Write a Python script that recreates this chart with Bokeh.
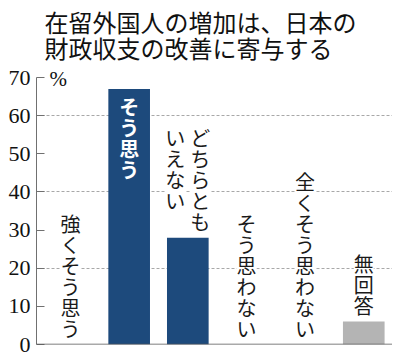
from bokeh.plotting import figure
from bokeh.models import ColumnDataSource, Range1d, FixedTicker, Span
from bokeh.core.properties import value
from bokeh.embed import file_html
from bokeh.resources import INLINE

# ---- data ----
title_lines = ["在留外国人の増加は、日本の", "財政収支の改善に寄与する"]
categories = ["強くそう思う", "そう思う", "どちらともいえない", "そう思わない", "全くそう思わない", "無回答"]
label_columns = [["強くそう思う"], ["そう思う"], ["どちらとも", "いえない"],
                 ["そう思わない"], ["全くそう思わない"], ["無回答"]]
values = [0, 67, 28, 0, 0, 6]
label_inside = [False, True, False, False, False, False]
y_ticks = [0, 10, 20, 30, 40, 50, 60, 70]
grid_ticks = [20, 40, 60]
unit_label = "%"

# ---- style / geometry ----
NAVY = "#1d4a7c"
GREY = "#b4b4b4"
JP = "Noto Sans CJK JP"
NUM = "Liberation Sans Narrow"
W, H = 392, 355
B_LEFT, B_BOTTOM = 36, 11
TOP_PX = 77              # pixel row of the top tick (from canvas top)
PITCH = 21
LAST_GAP = 16            # bar top -> centre of the lowest character
COL_SP = 25

y_max = y_ticks[-1]
frame_h = H - B_BOTTOM
axis_px = frame_h - TOP_PX
y_top = y_max * frame_h / axis_px   # frame extends above the axis to hold the title
x_start, x_end = -0.58, 5.49

xs = list(range(len(categories)))
bar_colors = [GREY if c == "無回答" else NAVY for c in categories]
bars = ColumnDataSource(dict(x=xs, top=values, color=bar_colors))

p = figure(width=W, height=H, output_backend="svg", toolbar_location=None, title=None,
           x_range=Range1d(x_start, x_end), y_range=Range1d(0, y_top),
           x_axis_location=None,
           min_border_left=B_LEFT, min_border_right=0, min_border_bottom=B_BOTTOM,
           min_border_top=0)
p.outline_line_color = None
p.background_fill_color = "white"
p.border_fill_color = "white"

p.xgrid.visible = False
p.ygrid.ticker = FixedTicker(ticks=grid_ticks)
p.ygrid.grid_line_color = "#a8a8a8"
p.ygrid.grid_line_dash = "3 2"
p.ygrid.grid_line_width = 1

ax = p.yaxis[0]
ax.ticker = FixedTicker(ticks=y_ticks)
ax.bounds = (0, y_max)
ax.major_tick_in = 8
ax.major_tick_out = 0
ax.minor_tick_line_color = None
ax.axis_line_color = "#707070"
ax.major_tick_line_color = "#707070"
ax.major_label_text_font = NUM
ax.major_label_text_font_size = "22px"
ax.major_label_text_color = "#111111"
ax.major_label_standoff = 6

p.add_layout(Span(location=0, dimension="width", line_color="#555555", line_width=1.5))

p.vbar(x="x", top="top", width=0.71, color="color", line_color=None, source=bars)

# vertical (tategaki) labels, one glyph per character
out = dict(x=[], y=[], t=[], xo=[], yo=[])
ins = dict(x=[], y=[], t=[], xo=[], yo=[])
for x, v, cols, inside in zip(xs, values, label_columns, label_inside):
    n = len(cols)
    N = max(len(c) for c in cols)
    for j, col in enumerate(cols):
        xo = ((n - 1) / 2 - j) * COL_SP
        for i, ch in enumerate(col):
            if inside:
                d = ins
                yo = 18 + i * PITCH
            else:
                d = out
                yo = -LAST_GAP - (N - 1) * PITCH + i * PITCH
            d["x"].append(x); d["y"].append(v); d["t"].append(ch)
            d["xo"].append(xo); d["yo"].append(yo)

out_src = ColumnDataSource(out)
# white boxes that break the grid lines behind the labels
p.text(x="x", y="y", text="t", x_offset="xo", y_offset="yo", source=out_src,
       text_font=value(JP), text_font_size="20px", text_align="center",
       text_baseline="middle", text_alpha=0, background_fill_color="white",
       padding=0)
p.text(x="x", y="y", text="t", x_offset="xo", y_offset="yo", source=out_src,
       text_font=value(JP), text_font_size="20px", text_align="center",
       text_baseline="middle", text_color="#1a1a1a")
p.text(x="x", y="y", text="t", x_offset="xo", y_offset="yo", source=ColumnDataSource(ins),
       text_font=value(JP), text_font_size="20px", text_font_style="bold",
       text_align="center", text_baseline="middle", text_color="white")

# title lines (placed relative to top of frame)
p.text(x=[x_start] * len(title_lines), y=[y_top] * len(title_lines), text=title_lines,
       x_offset=[8] * len(title_lines), y_offset=[21 + 25.5 * k for k in range(len(title_lines))],
       text_font=value(JP), text_font_size="24px", text_align="left",
       text_baseline="middle", text_color="#111111")

# unit label next to the top tick
p.text(x=[x_start], y=[y_max], text=[unit_label], x_offset=[13], y_offset=[1],
       text_font=value(NUM), text_font_size="21px", text_align="left",
       text_baseline="middle", text_color="#111111")

open("out.html", "w").write(file_html(p, INLINE))
